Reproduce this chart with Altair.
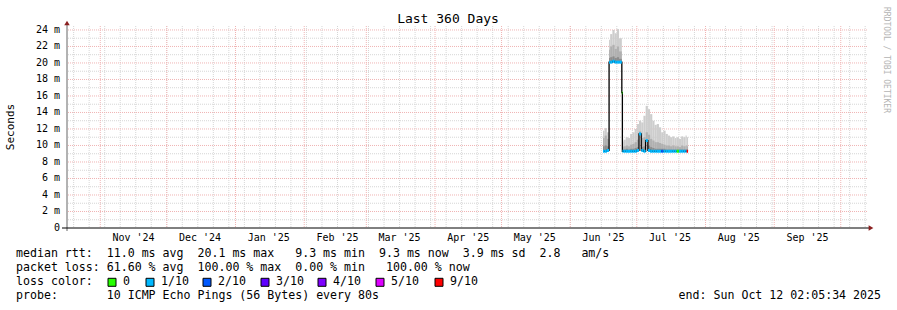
import altair as alt
import pandas as pd

# ---------------- data ----------------
bucket_start = [
    "2025-06-15T18:00:00Z", "2025-06-16T12:00:00Z", "2025-06-17T12:00:00Z",
    "2025-06-18T12:00:00Z", "2025-06-19T00:00:00Z", "2025-06-20T00:00:00Z",
    "2025-06-21T00:00:00Z", "2025-06-22T00:00:00Z", "2025-06-23T00:00:00Z",
    "2025-06-24T06:00:00Z",
    "2025-06-24T12:00:00Z", "2025-06-25T00:00:00Z", "2025-06-26T00:00:00Z",
    "2025-06-27T00:00:00Z", "2025-06-28T00:00:00Z", "2025-06-29T00:00:00Z",
    "2025-06-30T00:00:00Z", "2025-07-01T00:00:00Z", "2025-07-02T00:00:00Z",
    "2025-07-03T00:00:00Z", "2025-07-04T00:00:00Z", "2025-07-05T00:00:00Z",
    "2025-07-06T00:00:00Z", "2025-07-07T00:00:00Z", "2025-07-08T00:00:00Z",
    "2025-07-09T00:00:00Z", "2025-07-10T00:00:00Z", "2025-07-11T00:00:00Z",
    "2025-07-12T00:00:00Z", "2025-07-13T00:00:00Z", "2025-07-14T00:00:00Z",
    "2025-07-15T00:00:00Z", "2025-07-16T00:00:00Z", "2025-07-17T00:00:00Z",
    "2025-07-18T00:00:00Z", "2025-07-19T00:00:00Z", "2025-07-20T00:00:00Z",
    "2025-07-21T00:00:00Z", "2025-07-22T00:00:00Z", "2025-07-23T00:00:00Z",
    "2025-07-23T12:00:00Z",
]
data_end = "2025-07-24T03:00:00Z"

smoke_max = [11.8, 12.1, 11.6,
             22.8, 23.5, 24.0, 23.6, 24.1, 23.0,
             16.4,
             10.5, 10.7, 11.0, 10.9, 11.4, 11.6, 12.0, 12.6, 13.0, 12.8,
             13.6, 14.8, 14.4, 13.8, 13.0, 12.5, 12.6, 12.2, 11.6, 11.8,
             11.4, 11.2, 11.0, 11.1, 10.9, 11.0, 10.8, 11.1, 11.0, 11.2, 11.0]
smoke_mid = [10.9, 11.2, 10.8,
             21.6, 22.0, 22.2, 21.7, 22.0, 21.4,
             16.4,
             9.8, 9.9, 10.0, 9.9, 10.1, 10.2, 10.4, 10.7, 11.7, 10.9,
             11.0, 11.6, 11.3, 10.8, 10.6, 10.4, 10.4, 10.3, 10.2, 10.1,
             10.0, 10.0, 9.9, 10.0, 9.9, 9.9, 9.8, 10.0, 9.9, 10.0, 9.9]
smoke_low = [9.9, 10.0, 9.9,
             20.6, 20.7, 20.8, 20.6, 20.7, 20.5,
             16.4,
             9.5, 9.5, 9.6, 9.5, 9.6, 9.6, 9.7, 9.8, 11.5, 9.8,
             9.9, 10.7, 10.0, 9.8, 9.7, 9.6, 9.6, 9.6, 9.6, 9.6,
             9.5, 9.5, 9.5, 9.5, 9.5, 9.5, 9.5, 9.5, 9.5, 9.5, 9.5]
median_ms = [9.3, 9.3, 9.4,
             20.1, 20.1, 20.2, 20.1, 20.1, 20.1,
             16.4,
             9.3, 9.3, 9.3, 9.3, 9.3, 9.3, 9.3, 9.4, 11.4, 9.4,
             9.3, 10.6, 9.4, 9.3, 9.3, 9.3, 9.3, 9.3, 9.3, 9.3,
             9.3, 9.3, 9.3, 9.3, 9.3, 9.3, 9.3, 9.3, 9.3, 9.3, 9.3]
loss = ["1/10", "1/10", "1/10",
        "1/10", "1/10", "1/10", "1/10", "1/10", "1/10",
        "0",
        "1/10", "1/10", "1/10", "1/10", "1/10", "1/10", "1/10", "1/10", "1/10", "1/10",
        "1/10", "1/10", "1/10", "1/10", "1/10", "1/10", "1/10", "1/10", "2/10", "1/10",
        "1/10", "1/10", "1/10", "1/10", "1/10", "0", "1/10", "1/10", "1/10", "1/10", "9/10"]

loss_levels = ["0", "1/10", "2/10", "3/10", "4/10", "5/10", "9/10"]
loss_colors = ["#26ff00", "#00b8ff", "#0059ff", "#5e00ff", "#7e00ff", "#dd00ff", "#ff0000"]

month_label_dates = ["2024-11-16T00:00:00Z", "2024-12-16T00:00:00Z", "2025-01-16T00:00:00Z",
                     "2025-02-16T00:00:00Z", "2025-03-16T00:00:00Z", "2025-04-16T00:00:00Z",
                     "2025-05-16T00:00:00Z", "2025-06-16T00:00:00Z", "2025-07-16T00:00:00Z",
                     "2025-08-16T00:00:00Z", "2025-09-16T00:00:00Z"]
month_labels = ["Nov '24", "Dec '24", "Jan '25", "Feb '25", "Mar '25", "Apr '25",
                "May '25", "Jun '25", "Jul '25", "Aug '25", "Sep '25"]

y_tick_values = [0, 2, 4, 6, 8, 10, 12, 14, 16, 18, 20, 22, 24]
y_tick_labels = ["0  ", "2 m", "4 m", "6 m", "8 m", "10 m", "12 m", "14 m",
                 "16 m", "18 m", "20 m", "22 m", "24 m"]

title_text = "Last 360 Days"
y_title = "Seconds"
watermark = "RRDTOOL / TOBI OETIKER"
legend_line1 = "median rtt:  11.0 ms avg  20.1 ms max   9.3 ms min  9.3 ms now  3.9 ms sd  2.8   am/s"
legend_line2 = "packet loss: 61.60 % avg  100.00 % max  0.00 % min   100.00 % now"
legend_line3 = "loss color:"
legend_line4 = "probe:       10 ICMP Echo Pings (56 Bytes) every 80s"
end_text = "end: Sun Oct 12 02:05:34 2025"


def keep_spaces(s):
    return s.replace(" ", "\u00a0")


# ---------------- tables ----------------
df = pd.DataFrame({
    "start": bucket_start,
    "end": bucket_start[1:] + [data_end],
    "max": smoke_max, "mid": smoke_mid, "low": smoke_low,
    "med": median_ms, "loss": loss,
})
weeks = [d.strftime("%Y-%m-%dT00:00:00Z") for d in pd.date_range("2024-10-20", "2025-10-12", freq="7D")]
months = [d.strftime("%Y-%m-%dT00:00:00Z") for d in pd.date_range("2024-11-01", "2025-10-01", freq="MS")]
y_minor = list(range(1, 24, 2))
y_major = list(range(2, 25, 2))
dummy = pd.DataFrame({"a": [0]})

FONT = "DejaVu Sans Mono"
xscale = alt.Scale(type="utc",
                   domain=[alt.DateTime(year=2024, month=10, date=17, hours=0, utc=True),
                           alt.DateTime(year=2025, month=10, date=12, hours=20, utc=True)])
yscale = alt.Scale(domain=[0, 24.48], nice=False, zero=True)
GRAY = "#d6d6d6"
RED = "#f0b4b4"


def X(f):
    return alt.X(f, scale=xscale, axis=None)


def Y(f):
    return alt.Y(f, scale=yscale, axis=None)


layers = []
layers.append(alt.Chart(pd.DataFrame({"v": y_minor})).mark_rule(color=GRAY, strokeDash=[1, 1]).encode(y=Y("v:Q")))
layers.append(alt.Chart(pd.DataFrame({"t": weeks})).mark_rule(color=GRAY, strokeDash=[1, 1]).encode(x=X("t:T")))
layers.append(alt.Chart(pd.DataFrame({"v": y_major})).mark_rule(color=RED, strokeDash=[1, 1]).encode(y=Y("v:Q")))
layers.append(alt.Chart(pd.DataFrame({"t": months})).mark_rule(color=RED, strokeDash=[1, 1]).encode(x=X("t:T")))

# smoke
base = alt.Chart(df)
layers.append(base.mark_rect(color="#cdcdcd").encode(x=X("start:T"), x2="end:T", y=Y("med:Q"), y2="max:Q"))
layers.append(base.mark_rect(color="#b0b0b0").encode(x=X("start:T"), x2="end:T", y=Y("med:Q"), y2="mid:Q"))
layers.append(base.mark_rect(color="#8c8c8c").encode(x=X("start:T"), x2="end:T", y=Y("med:Q"), y2="low:Q"))
# median
layers.append(base.mark_line(interpolate="step-after", color="black", strokeWidth=1.3).encode(x=X("start:T"), y=Y("med:Q")))
layers.append(base.mark_rule(strokeWidth=3).encode(
    x=X("start:T"), x2="end:T", y=Y("med:Q"),
    color=alt.Color("loss:N", scale=alt.Scale(domain=loss_levels, range=loss_colors), legend=None)))

# axes
layers.append(alt.Chart(dummy).mark_rule(color="#666666", strokeWidth=1).encode(
    x=alt.value(0), y=alt.value(-3), y2=alt.value(205)))
layers.append(alt.Chart(dummy).mark_rule(color="black", strokeWidth=1).encode(
    x=alt.value(-5), x2=alt.value(802), y=alt.value(202)))
layers.append(alt.Chart(dummy).mark_point(shape="triangle-up", filled=True, size=30, color="#8b2020", opacity=1).encode(
    x=alt.value(0), y=alt.value(-3)))
layers.append(alt.Chart(dummy).mark_point(shape="triangle-right", filled=True, size=30, color="#8b2020", opacity=1).encode(
    x=alt.value(804), y=alt.value(202)))

# tick labels
layers.append(alt.Chart(pd.DataFrame({"t": month_label_dates, "l": month_labels})).mark_text(
    font=FONT, fontSize=10, color="black", baseline="middle", align="center").encode(
    x=X("t:T"), y=alt.value(211.5), text="l:N"))
layers.append(alt.Chart(pd.DataFrame({"v": y_tick_values, "l": [keep_spaces(s) for s in y_tick_labels]})).mark_text(
    font=FONT, fontSize=10, color="black", baseline="middle", align="right").encode(
    y=Y("v:Q"), x=alt.value(-7), text="l:N"))

# titles
layers.append(alt.Chart(dummy).mark_text(text=title_text, font=FONT, fontSize=13, color="black",
                                         align="center", baseline="middle").encode(x=alt.value(381), y=alt.value(-7)))
layers.append(alt.Chart(dummy).mark_text(text=y_title, font=FONT, fontSize=11, color="black", angle=270,
                                         align="center", baseline="middle").encode(x=alt.value(-56), y=alt.value(101)))
layers.append(alt.Chart(dummy).mark_text(text=watermark, font=FONT, fontSize=8, color="#b4b4b4", angle=90,
                                         align="center", baseline="middle").encode(x=alt.value(819), y=alt.value(34)))

# legend text
LFS = 11.6
for txt, yy in [(legend_line1, 228.3), (legend_line2, 242.3), (legend_line3, 256.4), (legend_line4, 270.3)]:
    layers.append(alt.Chart(dummy).mark_text(text=keep_spaces(txt), font=FONT, fontSize=LFS, color="black",
                                             align="left", baseline="middle").encode(x=alt.value(-51), y=alt.value(yy)))
layers.append(alt.Chart(dummy).mark_text(text=keep_spaces(end_text), font=FONT, fontSize=LFS, color="black",
                                         align="right", baseline="middle").encode(x=alt.value(814), y=alt.value(270.3)))

swatch_left = [41, 79, 136, 194, 251, 309, 368]
for lvl, col, sx in zip(loss_levels, loss_colors, swatch_left):
    layers.append(alt.Chart(dummy).mark_square(size=64, filled=True, color=col, stroke="black",
                                               strokeWidth=1, opacity=1).encode(
        x=alt.value(sx + 4), y=alt.value(256.3)))
    layers.append(alt.Chart(dummy).mark_text(text=lvl, font=FONT, fontSize=LFS, color="black",
                                             align="left", baseline="middle").encode(
        x=alt.value(sx + 15), y=alt.value(256.4)))

chart = alt.layer(*layers).properties(
    width=800, height=202,
    autosize=alt.AutoSizeParams(type="none"),
    padding={"left": 67, "top": 26, "right": 30, "bottom": 82},
    background="white",
).configure_view(stroke=None)

chart.save("out.html", embed_options={"renderer": "svg", "actions": False})
